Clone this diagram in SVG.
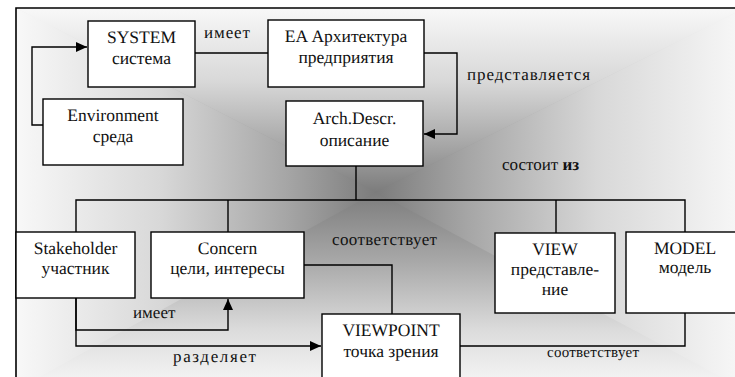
<svg xmlns="http://www.w3.org/2000/svg" width="735" height="377" viewBox="0 0 735 377">
<defs>
<linearGradient id="gTop" gradientUnits="userSpaceOnUse" x1="0" y1="8" x2="0" y2="192">
<stop offset="0" stop-color="#f8f8f8"/><stop offset="0.4" stop-color="#d8d8d8"/><stop offset="0.75" stop-color="#a6a6a6"/><stop offset="1" stop-color="#7c7c7c"/>
</linearGradient>
<linearGradient id="gBot" gradientUnits="userSpaceOnUse" x1="0" y1="390" x2="0" y2="192">
<stop offset="0" stop-color="#f8f8f8"/><stop offset="0.3" stop-color="#dcdcdc"/><stop offset="0.65" stop-color="#a8a8a8"/><stop offset="1" stop-color="#7c7c7c"/>
</linearGradient>
<linearGradient id="gLeft" gradientUnits="userSpaceOnUse" x1="16" y1="0" x2="376" y2="0">
<stop offset="0" stop-color="#f8f8f8"/><stop offset="0.4" stop-color="#d8d8d8"/><stop offset="0.75" stop-color="#a6a6a6"/><stop offset="1" stop-color="#7c7c7c"/>
</linearGradient>
<linearGradient id="gRight" gradientUnits="userSpaceOnUse" x1="745" y1="0" x2="376" y2="0">
<stop offset="0" stop-color="#f8f8f8"/><stop offset="0.4" stop-color="#d8d8d8"/><stop offset="0.75" stop-color="#a6a6a6"/><stop offset="1" stop-color="#7c7c7c"/>
</linearGradient>
<radialGradient id="gBg" gradientUnits="userSpaceOnUse" cx="376" cy="192" r="380">
<stop offset="0" stop-color="#7c7c7c"/><stop offset="1" stop-color="#f0f0f0"/>
</radialGradient>
<marker id="arr" markerUnits="userSpaceOnUse" markerWidth="12" markerHeight="10" refX="11" refY="5" orient="auto">
<path d="M0,0 L11,5 L0,10 Z" fill="#000"/>
</marker>
</defs>
<style>
.box{fill:#fff;stroke:#000;stroke-width:1.4}
.ln{fill:none;stroke:#000;stroke-width:1.4}
text{font-family:'Liberation Serif',serif;fill:#111;text-rendering:geometricPrecision}
.t{font-size:17.5px;text-anchor:middle}
.l{font-size:17px}
.s{font-size:15px}
</style>
<rect x="0" y="0" width="735" height="377" fill="#fff"/>
<g id="background">
<rect x="16" y="8" width="730" height="377" fill="url(#gBg)"/>
<polygon points="16,8 745,8 376,192" fill="url(#gTop)"/>
<polygon points="16,390 745,390 376,192" fill="url(#gBot)"/>
<polygon points="16,8 16,390 376,192" fill="url(#gLeft)"/>
<polygon points="745,8 745,390 376,192" fill="url(#gRight)"/>
<path d="M16,390 V8 H745" fill="none" stroke="#000" stroke-width="1.6"/>
</g>
<g id="connectors">
<path class="ln" d="M43,125 H32 V47 H87" marker-end="url(#arr)"/>
<path class="ln" d="M195,53 H268"/>
<path class="ln" d="M424,53 H457 V134 H424" marker-end="url(#arr)"/>
<path class="ln" d="M356,166 V200"/>
<path class="ln" d="M76,232 V200 H685 V232"/>
<path class="ln" d="M228,200 V232"/>
<path class="ln" d="M556,200 V233"/>
<path class="ln" d="M76,298 V330 H228 V299" marker-end="url(#arr)"/>
<path class="ln" d="M76,298 V346 H321" marker-end="url(#arr)"/>
<path class="ln" d="M304,265 H392 V314"/>
<path class="ln" d="M460,346 H685 V313"/>
<text class="l" x="204" y="38" textLength="46" lengthAdjust="spacing">имеет</text>
<text class="l" x="467" y="80" textLength="123" lengthAdjust="spacing">представляется</text>
<text class="l" x="502" y="170">состоит <tspan font-weight="bold">из</tspan></text>
<text class="l" x="133" y="318">имеет</text>
<text class="l" x="173" y="362" textLength="83" lengthAdjust="spacing">разделяет</text>
<text class="l" x="332" y="245" textLength="105" lengthAdjust="spacing">соответствует</text>
<text class="s" x="547" y="357" textLength="92" lengthAdjust="spacing">соответствует</text>
</g>
<g id="system"><rect class="box" x="88" y="21" width="107" height="66"/><text class="t" x="141.5" y="43">SYSTEM</text><text class="t" x="141.5" y="64">система</text></g>
<g id="ea"><rect class="box" x="268" y="20" width="156" height="67"/><text class="t" x="346" y="42">EA Архитектура</text><text class="t" x="346" y="63">предприятия</text></g>
<g id="environment"><rect class="box" x="43" y="99" width="140" height="66"/><text class="t" x="113" y="121">Environment</text><text class="t" x="113" y="142">среда</text></g>
<g id="archdescr"><rect class="box" x="286" y="101" width="137" height="65"/><text class="t" x="354.5" y="124">Arch.Descr.</text><text class="t" x="354.5" y="146">описание</text></g>
<g id="stakeholder"><rect class="box" x="16" y="232" width="119" height="66"/><text class="t" x="75.5" y="254">Stakeholder</text><text class="t" x="75.5" y="274">участник</text></g>
<g id="concern"><rect class="box" x="151" y="232" width="153" height="66"/><text class="t" x="227.5" y="254">Concern</text><text class="t" x="227.5" y="274">цели, интересы</text></g>
<g id="view"><rect class="box" x="495" y="233" width="120" height="80"/><text class="t" x="555" y="255">VIEW</text><text class="t" x="555" y="275">представле-</text><text class="t" x="555" y="295">ние</text></g>
<g id="model"><rect class="box" x="626" y="232" width="125" height="81"/><text class="t" x="685" y="254">MODEL</text><text class="t" x="685" y="273">модель</text></g>
<g id="viewpoint"><rect class="box" x="322" y="314" width="138" height="80"/><text class="t" x="391" y="336">VIEWPOINT</text><text class="t" x="391" y="357">точка зрения</text></g>
</svg>
